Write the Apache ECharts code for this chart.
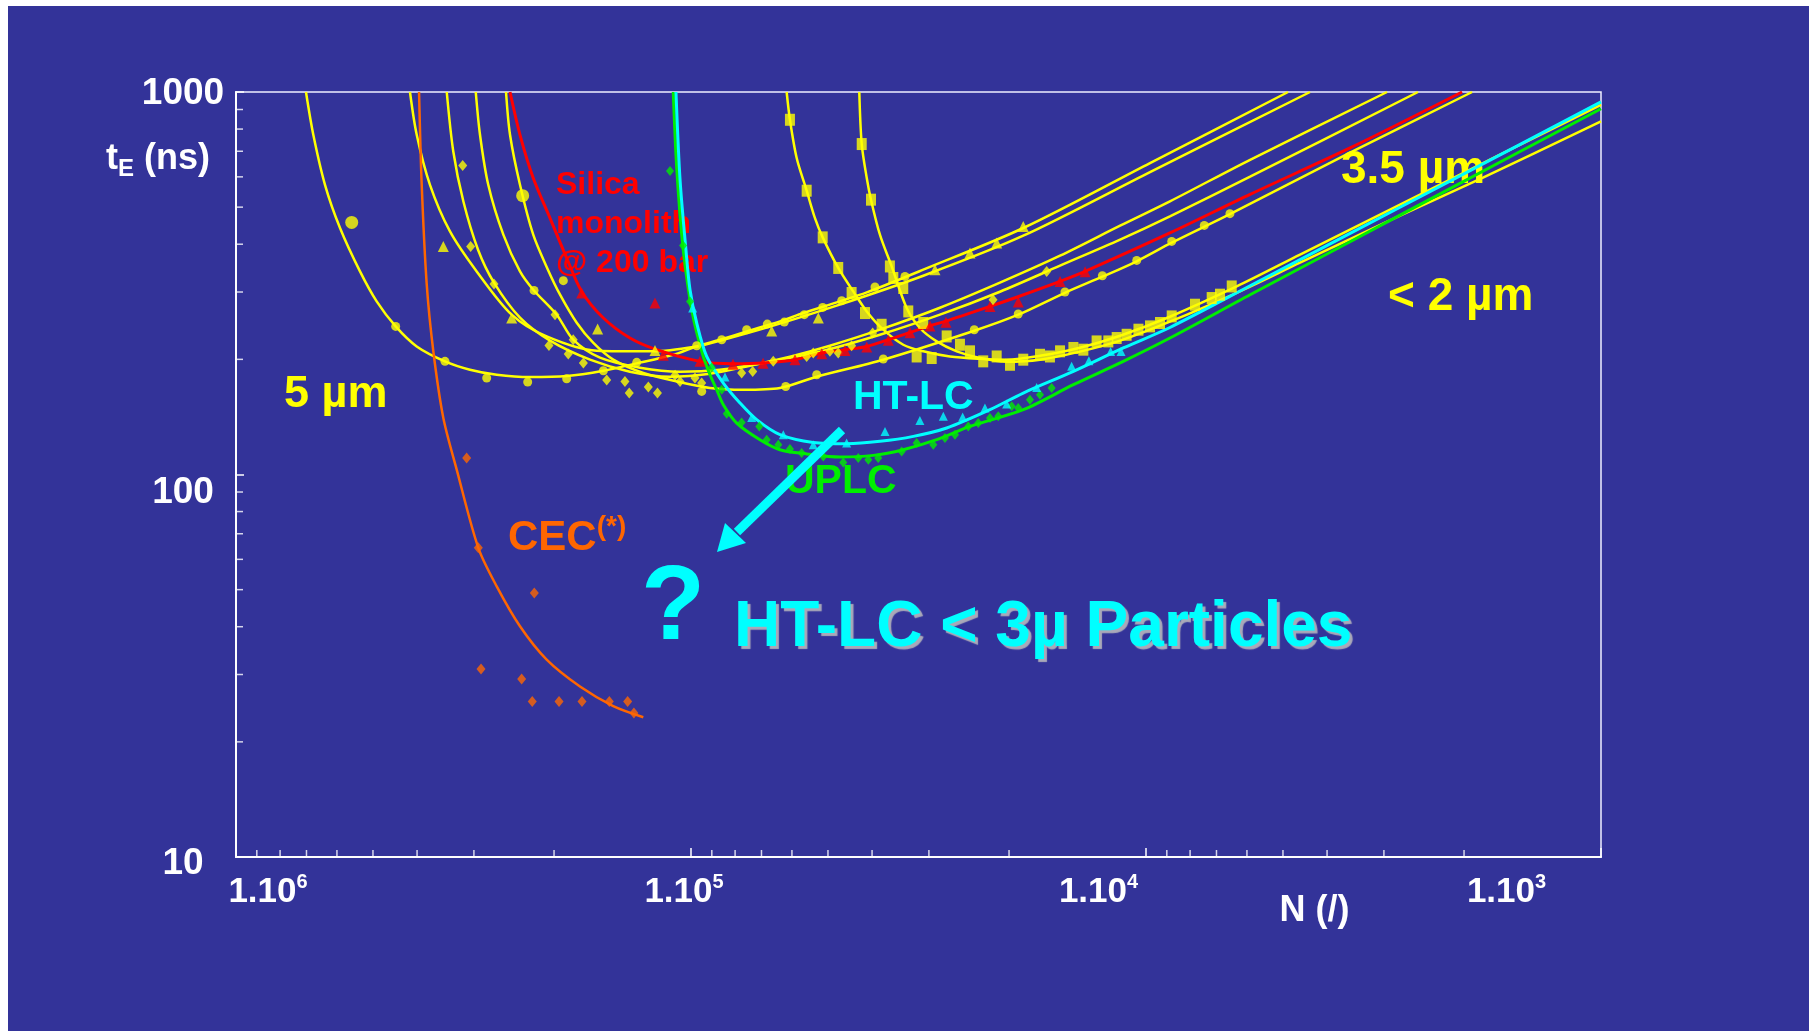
<!DOCTYPE html>
<html><head><meta charset="utf-8">
<script src="https://cdn.jsdelivr.net/npm/echarts/dist/echarts.min.js"></script>
<style>
html,body{margin:0;padding:0;background:#fff;}
#chart{position:absolute;left:0;top:0;width:1809px;height:1031px;background:#333399;box-shadow:inset 8px 6px 0 0 #ffffff;}
</style></head><body><div id="chart"></div>
<script>
// ---------------- data (N plates, tE ns) ----------------
const xTickValues = [2000,3000,4000,5000,6000,7000,8000,9000,20000,30000,40000,50000,60000,70000,80000,90000,200000,300000,400000,500000,600000,700000,800000,900000];
const yTickValues = [20,30,40,50,60,70,80,90,200,300,400,500,600,700,800,900];
const xLabelExponents = [3,4,5,6];

const orangeCurve = [[396000,1000],[390700,572],[380900,314],[368400,210],[350200,140.5],[327300,103],[293400,64.3],[267300,51],[237600,40.1],[207600,32.8],[175400,27.9],[148200,24.8],[127300,23.2]];
const orangePoints = [[311200,110.4],[293400,64.3],[221000,49],[289400,31],[235600,29.2],[223300,25.5],[195000,25.5],[173600,25.5],[151200,25.5],[137800,25.5],[133500,23.8]];

const greenCurve = [[109400,1000],[107500,633],[104300,399],[100500,286],[97500,239],[93970,203.5],[90830,182.3],[87820,166.6],[84920,152.2],[79360,136.3],[70540,123.3],[63750,116.1],[55690,113.2],[47060,111.1],[39750,112.2],[34160,116.1],[28840,123.3],[24370,133.6],[18610,147.7],[14440,171.7],[11220,197.6],[8860,227.4],[5905,295],[3560,406],[2147,559],[1000,904]];
const greenPoints = [[111200,622],[104100,397],[100500,283.5],[90050,190.5],[85600,166.6],[83460,144.2],[77390,136.8],[70780,133.6],[68170,123.3],[64280,119.7],[60610,116.6],[57120,113.8],[51200,111.5],[46280,107.5],[42890,110.4],[40760,109.3],[38770,110.4],[34430,114.9],[31920,120.9],[29340,119.7],[27660,124.5],[26290,127.1],[24580,133.6],[23370,136.3],[22020,140.5],[21120,141.9],[19730,150.7],[19090,149.3],[17990,156.9],[17100,161.7],[16120,168.4]];

const cyanCurve = [[107900,1000],[105700,590],[102600,387],[100500,304],[97160,249],[92370,203.5],[84920,173.4],[78050,153.8],[71720,139.1],[63750,127.1],[53860,121.3],[45490,120.4],[38440,122.1],[32460,125.8],[27420,132.3],[22020,147.7],[18610,163.3],[14440,186],[11220,214.2],[8860,242.3],[5905,311.5],[3560,427],[2147,585],[1000,942]];
const cyanPoints = [[99150,272.3],[84200,179.9],[73560,141],[62680,127.1],[53860,119.7],[45490,120.9],[37470,129.6],[31400,138.5],[27890,141.9],[25290,141.3],[22590,149.3],[20240,152.9],[17390,168.9],[14570,191.8],[13350,198.4],[11960,209.8],[11350,209.8]];

const redCurve = [[249900,1000],[237600,773],[222200,596],[204100,468],[187600,368],[173900,301],[155800,256.5],[136200,227.4],[119000,212],[95540,197.6],[80850,194.9],[69450,195.7],[59070,199.6],[51600,207.8],[45870,212],[41090,216.2],[36840,225.1],[33010,235.2],[29830,244.9],[27660,251.3],[22020,275.1],[19110,291.6],[15450,319.8],[13610,339.6],[8860,428],[5905,540],[3560,714],[2020,1000]];
const redPoints = [[173900,298.2],[120000,280.8],[115100,205.1],[95540,197.6],[80850,194.3],[69450,195.5],[59070,199.5],[51600,207],[45870,211.1],[41090,215.5],[36840,224.4],[33010,234.8],[29830,244.5],[27520,250.1],[22020,275.1],[19090,282.5],[15450,319.8],[13610,339]];

const yellowCurve1 = [[701800,1000],[676200,773],[637400,572],[590700,441],[533900,339.6],[490700,283.5],[445700,243.9],[400700,216.2],[347300,197.6],[306000,187.9],[267300,182.3],[225800,179.8],[187600,180.9],[155800,186.8],[131600,195.2],[109400,205.6],[97160,216.2],[86360,225.1],[75440,236.6],[63750,251.3],[56660,264.3],[47850,281.8],[41090,299.2],[30870,343.1],[18610,441],[9800,652],[4873,1000]];
const yellowCurve2 = [[414600,1000],[400700,773],[374700,572],[338600,432],[295800,339.6],[247800,261.7],[207600,229.6],[161200,210.7],[121000,209.9],[97160,216.2],[86360,223.7],[67060,243.5],[47850,276.3],[30870,330.9],[18610,421],[9800,617.7],[4360,1000]];
const yellowCurve3 = [[344200,1000],[333000,699],[316500,518],[293800,387],[271000,317.4],[237600,257],[204100,223.8],[166700,199.6],[136200,185.7],[111200,180.2],[90830,183.5],[74200,192.5],[60610,203.2],[49510,217.1],[38440,239.1],[28370,272.9],[20940,317.4],[15450,373.3],[11400,447.2],[8860,517.7],[5905,665],[2953,1000]];
const yellowCurve4 = [[297200,1000],[290900,773],[279000,572],[258500,423.6],[237600,339.6],[222200,304.2],[197300,261.7],[181500,225.1],[158500,202],[129400,190.2],[105700,185.7],[86360,187.9],[67060,197.2],[52080,209.5],[38440,231.9],[28370,261.7],[20940,300.5],[15450,351.5],[11400,411.1],[8860,472.9],[5905,600.6],[2525,1000]];
const yellowCurve5 = [[255000,1000],[249900,773],[237600,572],[222200,423.6],[206300,343.1],[194000,295.2],[178300,249.3],[163900,220.7],[148200,199.6],[127300,184.2],[107500,175.1],[90830,168.4],[76740,166.6],[63750,168.4],[52930,180.2],[37790,199.6],[23850,237.6],[19090,261.7],[15070,298.6],[12470,329],[10480,361],[8780,403.6],[6540,479.3],[3560,694],[1920,1000]];
const yellowCurve6 = [[61630,1000],[60610,846],[58580,672],[55690,552],[53400,468],[51350,416.8],[47470,346.7],[44000,301.1],[41090,266.9],[37790,239.1],[34160,218.4],[30870,209.9],[26970,203.5],[23170,200.7],[20240,199.6],[17100,204.3],[13970,214.5],[11400,230.6],[8860,258.5],[6320,310.2],[4586,375.6],[2765,507.4],[1667,685.6],[1000,926]];
const yellowCurve7 = [[42670,1000],[42150,731],[41090,596],[40220,523],[38440,423.6],[36220,349.9],[33570,272.4],[31400,241.5],[28840,222.8],[26060,209.9],[23170,201.6],[20240,197.2],[17100,199.6],[13970,209.5],[11400,223.8],[8860,250.9],[6320,298.6],[4586,357.8],[2765,474.9],[1817,597],[1000,838]];

const yellowCircles = [[445700,243.9],[347300,197.6],[281200,178.8],[228500,174.5],[187600,178],[155800,186.8],[131600,196.4],[97160,217.1],[85600,225.1],[75440,239.1],[67970,247.3],[62370,250.3],[56370,261.7],[51350,273.4],[46650,284.7],[39410,309.1],[33860,329.5],[221300,302.9],[190800,321.2],[94730,164.9],[61920,169.9],[52930,182.3],[37790,200.4],[23850,239.1],[19090,262.8],[15070,299.9],[12470,330.9],[10480,362.8],[8780,406.8],[7445,448],[6540,480.8]];
const yellowBigCircles = [[556800,456],[234400,535.8]];
const yellowTriangles = [[350200,394.7],[247800,256.5],[160400,240.2],[120000,211],[66480,237.3],[52500,256.5],[29090,343.1],[24370,379.4],[21290,402.9],[18610,445.3]];
const yellowDiamonds = [[317500,642.8],[305000,394.7],[271000,314.9],[199000,261.7],[181500,225.1],[205200,217.5],[186100,206.5],[172400,195.7],[153200,176.6],[139700,175.1],[136700,163.3],[124100,169.4],[118500,163.3],[108400,181.7],[105700,175.1],[98000,178.8],[94730,173.4],[77390,184.2],[73180,186],[65950,197.6],[55690,203.5],[53860,207.8],[49510,209.9],[47470,207.8],[44360,217.1],[39880,234.4],[21690,286.4],[16530,339.6]];
const yellowSquares = [[60610,846],[55690,552],[51350,416.8],[47470,346.7],[44360,298.2],[41460,264.3],[38110,246.3],[42150,731],[40220,523],[36550,349.9],[35920,326.4],[34160,307.3],[33300,266.9],[30870,248.9],[31920,203.5],[29580,201.6],[27420,229.6],[25640,218.4],[24370,209.9],[22790,197.6],[21290,203.5],[19900,193.6],[18610,199.6],[17100,205.6],[16260,203.5],[15450,209.9],[14440,214.2],[13730,212],[12840,222.8],[12100,222.8],[11600,227.4],[11030,231.9],[10390,239.1],[9800,243.9],[9316,248.9],[8780,259],[7804,277.9],[7172,289.3],[6877,295.2],[6480,310.2]];

// ---------------- styling ----------------
const F = '"Liberation Sans", Arial, Helvetica, sans-serif';
const YEL = '#FFFF00', RED = '#FF0000', GRN = '#00EE00', CYN = '#00FFFF', ORG = '#FF6600', WHITE = '#FFFFFF';

function curve(name, data, color, width) {
  return {name, type:'line', data, showSymbol:false, symbol:'none', smooth:0.3,
          lineStyle:{color, width}, z:2, silent:true};
}
function marks(name, data, color, symbol, size) {
  return {name, type:'scatter', data, symbol, symbolSize:size, itemStyle:{color}, z:4, silent:true, clip:false};
}

const xRich = {};
xLabelExponents.forEach(e => {
  xRich['p'+e] = {fontFamily:F, fontWeight:'bold', fontSize:35, lineHeight:40, color:WHITE};
  xRich['s'+e] = {fontFamily:F, fontWeight:'bold', fontSize:20, lineHeight:30, verticalAlign:'top', color:WHITE};
});
xRich.p6.padding = [0,0,0,64];
xRich.s5.padding = [0,14,0,0];
xRich.s4.padding = [0,95,0,0];
xRich.s3.padding = [0,189,0,0];

const yRich = {
  a:{fontFamily:F, fontWeight:'bold', fontSize:37, lineHeight:44, color:WHITE, padding:[4,0,0,0]},
  b:{fontFamily:F, fontWeight:'bold', fontSize:37, lineHeight:44, color:WHITE, padding:[37,0,0,0]},
  c:{fontFamily:F, fontWeight:'bold', fontSize:37, lineHeight:44, color:WHITE, padding:[13,0,0,0]}
};

const chart = echarts.init(document.getElementById('chart'), null, {renderer:'canvas'});
const option = {
  backgroundColor:'transparent',
  animation:false,
  grid:{left:236, top:92, right:208, bottom:174, containLabel:false, outerBoundsMode:'none',
        show:true, borderColor:'#F0F0FF', borderWidth:1.5, backgroundColor:'transparent'},
  xAxis:{
    type:'log', logBase:10, min:1000, max:1000000, inverse:true,
    axisLine:{show:true, lineStyle:{color:WHITE, width:2}},
    axisTick:{show:true, inside:true, length:9, lineStyle:{color:WHITE, width:1.5}},
    splitLine:{show:false}, minorTick:{show:false},
    axisLabel:{show:true, margin:15, showMinLabel:true, showMaxLabel:true,
      formatter:v => { const e = Math.round(Math.log10(v)); return '{p'+e+'|1.10}{s'+e+'|'+e+'}'; },
      rich:xRich},
    name:'N (/)', nameLocation:'middle', nameGap:32, nameMoveOverlap:false,
    nameTextStyle:{color:WHITE, fontFamily:F, fontWeight:'bold', fontSize:36, lineHeight:44,
                   verticalAlign:'top', padding:[0,0,0,792]}
  },
  yAxis:{
    type:'log', logBase:10, min:10, max:1000,
    axisLine:{show:true, lineStyle:{color:WHITE, width:2}},
    axisTick:{show:true, inside:true, length:8, lineStyle:{color:WHITE, width:1.5}},
    splitLine:{show:false}, minorTick:{show:false},
    axisLabel:{show:true, align:'center', margin:53, showMinLabel:true, showMaxLabel:true,
      formatter:v => { const e = Math.round(Math.log10(v)); return e===3 ? '{a|1000}' : e===2 ? '{b|100}' : '{c|10}'; },
      rich:yRich},
    name:'{t|t}{e|E}{n| (ns)}', nameLocation:'end', nameGap:-45, nameMoveOverlap:false,
    nameTextStyle:{align:'right', verticalAlign:'top', padding:[0,26,0,0],
      rich:{t:{fontFamily:F, fontWeight:'bold', fontSize:36, lineHeight:44, color:WHITE},
            e:{fontFamily:F, fontWeight:'bold', fontSize:24, lineHeight:16, verticalAlign:'bottom', color:WHITE},
            n:{fontFamily:F, fontWeight:'bold', fontSize:36, lineHeight:44, color:WHITE}}}
  },
  series:[
    curve('5 µm a', yellowCurve1, YEL, 2.5),
    curve('5 µm b', yellowCurve2, YEL, 2.5),
    curve('3.5 µm a', yellowCurve3, YEL, 2.5),
    curve('3.5 µm b', yellowCurve4, YEL, 2.5),
    curve('3.5 µm c', yellowCurve5, YEL, 2.5),
    curve('< 2 µm a', yellowCurve6, YEL, 2.5),
    curve('< 2 µm b', yellowCurve7, YEL, 2.5),
    curve('CEC', orangeCurve, ORG, 2.5),
    curve('Silica monolith', redCurve, RED, 3),
    curve('UPLC', greenCurve, GRN, 3),
    curve('HT-LC', cyanCurve, CYN, 3),
    marks('yellow circles', yellowCircles, YEL, 'circle', 9),
    marks('yellow big circles', yellowBigCircles, YEL, 'circle', 13),
    marks('yellow triangles', yellowTriangles, YEL, 'triangle', 11),
    marks('yellow diamonds', yellowDiamonds, YEL, 'diamond', [9,11]),
    marks('yellow squares', yellowSquares, YEL, 'rect', [10,12]),
    marks('CEC pts', orangePoints, ORG, 'diamond', [9,11]),
    marks('monolith pts', redPoints, RED, 'triangle', 11),
    marks('UPLC pts', greenPoints, GRN, 'diamond', [8,10]),
    marks('HT-LC pts', cyanPoints, CYN, 'triangle', 9),
    {type:'scatter', name:'y minor ticks', data:yTickValues.map(v => [1000000, v]), symbol:'rect',
     symbolSize:[7,1.5], symbolOffset:[3.5,0], itemStyle:{color:WHITE}, silent:true, clip:false, z:3},
    {type:'scatter', name:'x minor ticks', data:xTickValues.map(v => [v, 10]), symbol:'rect',
     symbolSize:[1.5,7], symbolOffset:[0,-3.5], itemStyle:{color:WHITE}, silent:true, clip:false, z:3}
  ],
  graphic:[
    {type:'text', x:284, y:395, z:1, silent:true, style:{text:'5 µm', fill:YEL, font:'bold 45px '+F, verticalAlign:'middle'}},
    {type:'text', x:556, y:166, z:1, silent:true, style:{text:'Silica\nmonolith\n@ 200 bar', fill:RED, font:'bold 32px '+F, lineHeight:39, verticalAlign:'top'}},
    {type:'text', x:508, y:513, z:1, silent:true, style:{text:'{a|CEC}{b|(*)}', fill:ORG, verticalAlign:'top',
      rich:{a:{fontSize:42, fontWeight:'bold', fontFamily:F, lineHeight:50, fill:ORG, color:ORG},
            b:{fontSize:28, fontWeight:'bold', fontFamily:F, lineHeight:30, verticalAlign:'top', fill:ORG, color:ORG}}}},
    {type:'text', x:641, y:610, z:1, silent:true, style:{text:'?', fill:CYN, font:'bold 105px '+F, verticalAlign:'middle'}},
    {type:'text', x:734, y:628, z:1, silent:true, style:{text:'HT-LC < 3µ Particles', fill:CYN, font:'bold 64px '+F, verticalAlign:'middle',
      textShadowColor:'#A9A9B9', textShadowOffsetX:3, textShadowOffsetY:3, textShadowBlur:1}},
    {type:'text', x:853, y:398, z:1, silent:true, style:{text:'HT-LC', fill:CYN, font:'bold 41px '+F, verticalAlign:'middle'}},
    {type:'text', x:785, y:482, z:1, silent:true, style:{text:'UPLC', fill:GRN, font:'bold 41px '+F, verticalAlign:'middle'}},
    {type:'text', x:1341, y:170, z:1, silent:true, style:{text:'3.5 µm', fill:YEL, font:'bold 46px '+F, verticalAlign:'middle'}},
    {type:'text', x:1388, y:297, z:1, silent:true, style:{text:'< 2 µm', fill:YEL, font:'bold 46px '+F, verticalAlign:'middle'}},
    {type:'line', z:6, silent:true, shape:{x1:842, y1:430, x2:737, y2:532}, style:{stroke:CYN, lineWidth:9}},
    {type:'polygon', z:6, silent:true, shape:{points:[[717,552],[725,523],[746,543]]}, style:{fill:CYN}}
  ]
};
chart.setOption(option);
</script></body></html>
